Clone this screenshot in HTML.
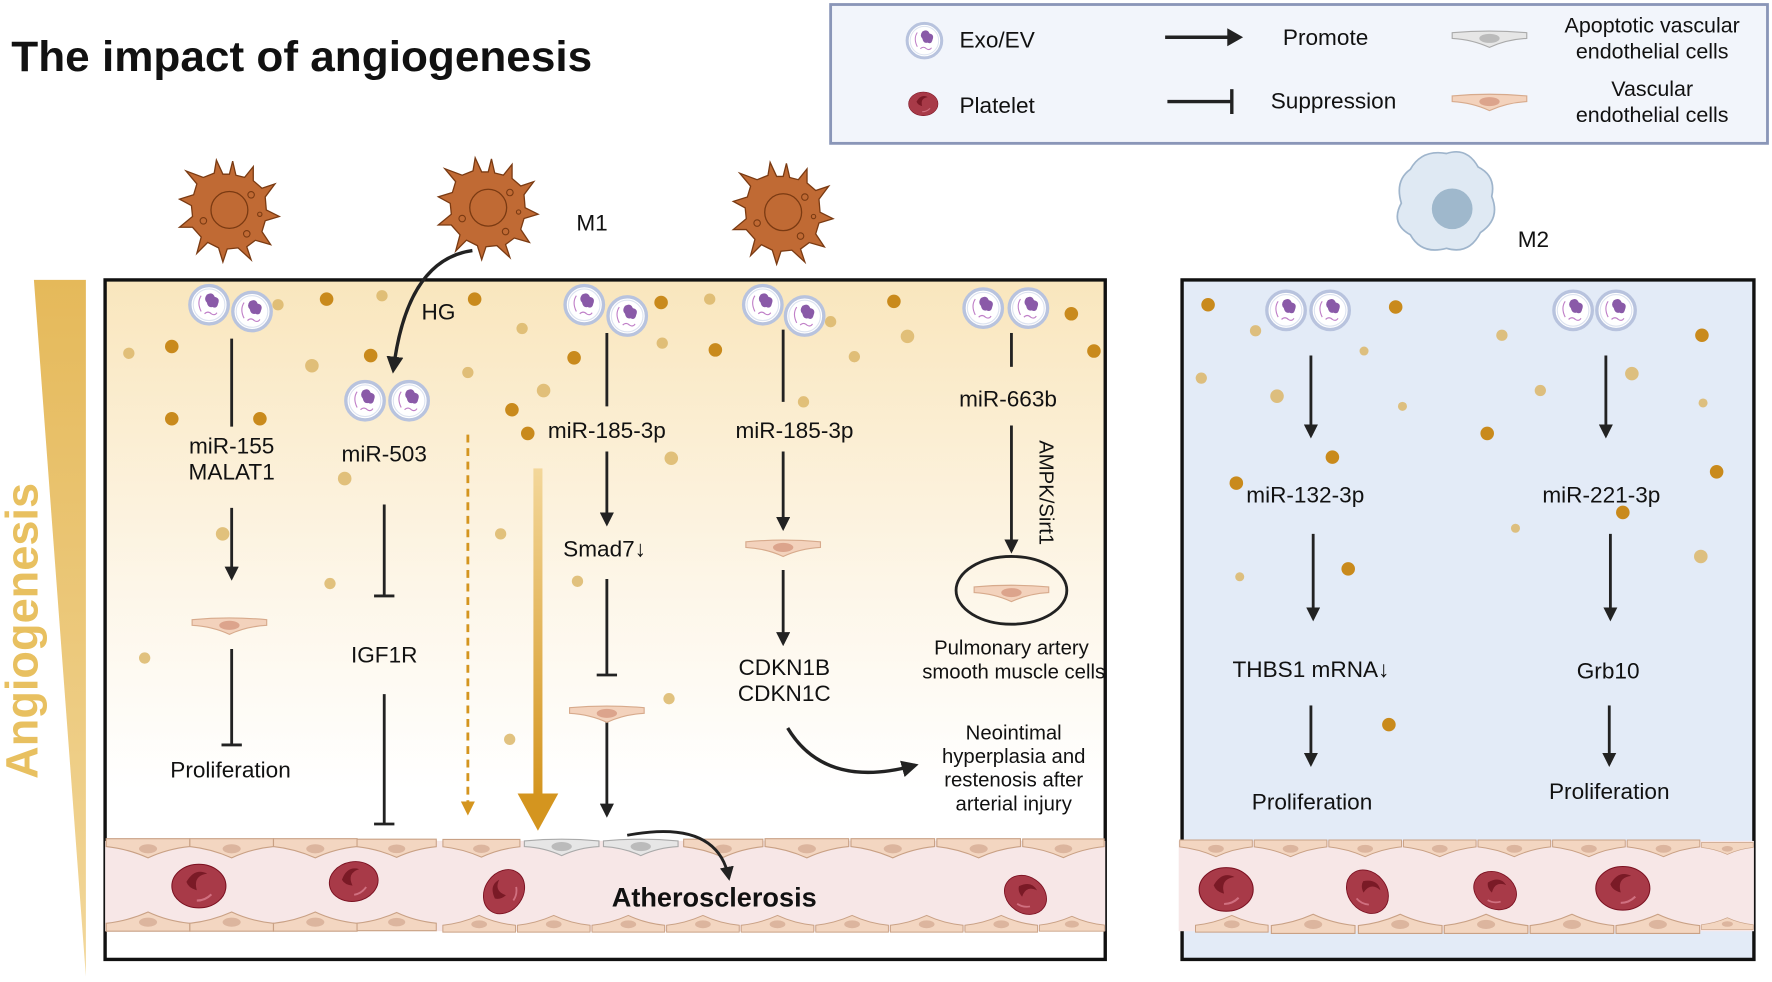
<!DOCTYPE html>
<html><head><meta charset="utf-8"><style>
html,body{margin:0;padding:0;background:#fff;}
svg{display:block;}
text{font-family:"Liberation Sans",Arial,sans-serif;fill:#111;}
</style></head><body>
<svg width="1772" height="982" viewBox="0 0 1568 870" preserveAspectRatio="none" xmlns="http://www.w3.org/2000/svg">
<defs>
<linearGradient id="bg1" x1="0" y1="0" x2="0" y2="1">
<stop offset="0" stop-color="#f9e6bd"/><stop offset="0.45" stop-color="#fdf6e8"/><stop offset="0.75" stop-color="#ffffff"/></linearGradient>
<linearGradient id="tri" x1="0" y1="0" x2="0" y2="1">
<stop offset="0" stop-color="#e5b95a"/><stop offset="1" stop-color="#f2d79a"/></linearGradient>
<linearGradient id="thick" x1="0" y1="0" x2="0" y2="1">
<stop offset="0" stop-color="#f3d79a"/><stop offset="1" stop-color="#d4951f"/></linearGradient>
<marker id="ah" viewBox="0 0 10 10" refX="8" refY="5" markerWidth="5" markerHeight="5" orient="auto"><path d="M0,0L10,5L0,10z" fill="#222"/></marker>
<marker id="ao" viewBox="0 0 10 10" refX="8" refY="5" markerWidth="5" markerHeight="5" orient="auto"><path d="M0,0L10,5L0,10z" fill="#d4951f"/></marker>
<symbol id="exo" viewBox="-20 -20 40 40"><circle r="17" fill="#fff" stroke="#b8c3de" stroke-width="3"/><circle r="14" fill="none" stroke="#dde3f0" stroke-width="1"/><path d="M-2,-9 q5,-3 7,2 q5,1 3,6 q-1,5 -5,3 q-4,1 -5,-4 q-3,-3 0,-7z" fill="#8a5aa8"/><path d="M-7,-8 q-4,6 0,14" stroke="#c080c8" fill="none"/><path d="M-4,8 q3,-3 6,0 q3,2 5,-1" stroke="#c080c8" fill="none"/></symbol>
<symbol id="mac" viewBox="-50 -50 100 100"><g stroke="#7a3a12" stroke-width="1.2" fill="#c06a34">
<path d="M0,-33 L3,-45 L6,-32 L14,-30 L22,-40 L22,-27 L30,-20 L42,-24 L33,-12 L34,0 L46,6 L33,10 L30,20 L38,32 L24,28 L16,34 L20,46 L8,35 L-2,36 L-6,48 L-10,35 L-20,30 L-30,40 L-26,25 L-34,16 L-46,16 L-34,6 L-35,-4 L-46,-10 L-33,-14 L-30,-24 L-40,-36 L-24,-30 L-14,-34 L-12,-46 L-6,-33 Z"/>
<circle r="17" fill="#c06a34"/></g>
<g fill="none" stroke="#7a3a12"><circle cx="20" cy="-14" r="3"/><circle cx="-24" cy="10" r="3"/><circle cx="16" cy="22" r="3"/><circle cx="28" cy="4" r="2"/></g></symbol>
<symbol id="ec" viewBox="0 0 70 20"><path d="M2,5 Q35,2 68,5 L68,10 Q50,11 35,18 Q20,11 2,10Z" fill="#f3d2bc" stroke="#d7aa8c"/><ellipse cx="35" cy="10" rx="9" ry="4" fill="#dca48c"/></symbol>
<symbol id="ecg" viewBox="0 0 70 20"><path d="M2,5 Q35,2 68,5 L68,10 Q50,11 35,18 Q20,11 2,10Z" fill="#e6e6e6" stroke="#aaa"/><ellipse cx="35" cy="10" rx="9" ry="4" fill="#bbb"/></symbol>
<symbol id="rbc" viewBox="-30 -25 60 50"><ellipse rx="26" ry="21" fill="#a83a48" stroke="#7a1020"/><path d="M-12,-4 q8,-14 20,-8 q-14,2 -10,16 q-8,-2 -10,-8z" fill="#7a1a26"/><path d="M12,8 q-6,6 -14,6" stroke="#d07080" fill="none" stroke-width="2"/></symbol>
<symbol id="vcell" viewBox="0 0 76 20"><path d="M1,1 L75,1 L75,8 Q55,10 38,18 Q20,10 1,8Z" fill="#f3d6c1" stroke="#c9a185"/><ellipse cx="38" cy="10" rx="8" ry="4" fill="#dcb59e"/></symbol>
<symbol id="vcellb" viewBox="0 0 76 20"><path d="M1,19 L75,19 L75,12 Q55,10 38,2 Q20,10 1,12Z" fill="#f3d6c1" stroke="#c9a185"/><ellipse cx="38" cy="11" rx="8" ry="4" fill="#dcb59e"/></symbol>
</defs>

<text x="10" y="63" font-size="38" font-weight="bold" fill="#222" textLength="514" lengthAdjust="spacingAndGlyphs">The impact of angiogenesis</text>

<!-- legend -->
<rect x="735" y="4" width="829" height="123" fill="#f2f5fb" stroke="#8a96b8" stroke-width="2.5"/>
<use href="#exo" x="800" y="18" width="36" height="36"/>
<text x="849" y="42" font-size="20">Exo/EV</text>
<use href="#rbc" x="802" y="79" width="30" height="26"/>
<text x="849" y="100" font-size="20">Platelet</text>
<line x1="1031" y1="33" x2="1090" y2="33" stroke="#222" stroke-width="3"/><path d="M1086,25 L1100,33 L1086,41z" fill="#222"/>
<text x="1173" y="40" font-size="20" text-anchor="middle">Promote</text>
<line x1="1033" y1="90" x2="1090" y2="90" stroke="#222" stroke-width="3"/><line x1="1090" y1="79" x2="1090" y2="101" stroke="#222" stroke-width="3"/>
<text x="1180" y="96" font-size="20" text-anchor="middle">Suppression</text>
<use href="#ecg" x="1283" y="24" width="70" height="20"/>
<use href="#ec" x="1283" y="80" width="70" height="20"/>
<text x="1462" y="29" font-size="19" text-anchor="middle">Apoptotic vascular</text>
<text x="1462" y="52" font-size="19" text-anchor="middle">endothelial cells</text>
<text x="1462" y="85" font-size="19" text-anchor="middle">Vascular</text>
<text x="1462" y="108" font-size="19" text-anchor="middle">endothelial cells</text>

<!-- triangle -->
<polygon points="30,248 76,248 76,865" fill="url(#tri)"/>
<text transform="translate(33,690) rotate(-90)" font-size="40" font-weight="bold" style="fill:#e8c060">Angiogenesis</text>

<!-- macrophages -->
<use href="#mac" x="155" y="138" width="96" height="96"/>
<use href="#mac" x="384" y="136" width="96" height="96"/>
<use href="#mac" x="645" y="140" width="96" height="96"/>
<text x="510" y="204" font-size="20">M1</text>
<path d="M1248,150 q10,-18 32,-14 q18,-6 28,12 q16,8 12,26 q8,20 -10,32 q-10,20 -30,14 q-22,6 -32,-12 q-18,-10 -8,-28 q-6,-20 8,-30z" fill="#dfe9f3" stroke="#9fb5cc" stroke-width="1.5"/>
<circle cx="1285" cy="185" r="18" fill="#9fb8cc"/>
<text x="1343" y="219" font-size="20">M2</text>

<!-- main boxes -->
<rect x="93" y="248" width="885" height="602" fill="url(#bg1)" stroke="#111" stroke-width="3"/>
<rect x="1046" y="248" width="506" height="602" fill="#e3ebf7" stroke="#111" stroke-width="3"/>

<!-- dots -->
<g fill="#c98a1c">
<circle cx="289" cy="265" r="6"/><circle cx="420" cy="265" r="6"/><circle cx="585" cy="268" r="6"/><circle cx="791" cy="267" r="6"/><circle cx="948" cy="278" r="6"/>
<circle cx="152" cy="307" r="6"/><circle cx="328" cy="315" r="6"/><circle cx="508" cy="317" r="6"/><circle cx="633" cy="310" r="6"/><circle cx="968" cy="311" r="6"/>
<circle cx="152" cy="371" r="6"/><circle cx="230" cy="371" r="6"/><circle cx="453" cy="363" r="6"/><circle cx="467" cy="384" r="6"/><circle cx="1069" cy="270" r="6"/><circle cx="1235" cy="272" r="6"/><circle cx="1506" cy="297" r="6"/><circle cx="1316" cy="384" r="6"/><circle cx="1179" cy="405" r="6"/><circle cx="1094" cy="428" r="6"/><circle cx="1436" cy="454" r="6"/><circle cx="1519" cy="418" r="6"/><circle cx="1193" cy="504" r="6"/><circle cx="1229" cy="642" r="6"/>
</g>
<g fill="#dcb76a" opacity="0.85">
<circle cx="246" cy="270" r="5"/><circle cx="338" cy="262" r="5"/><circle cx="462" cy="291" r="5"/><circle cx="628" cy="265" r="5"/><circle cx="735" cy="285" r="5"/><circle cx="803" cy="298" r="6"/>
<circle cx="114" cy="313" r="5"/><circle cx="276" cy="324" r="6"/><circle cx="414" cy="330" r="5"/><circle cx="481" cy="346" r="6"/><circle cx="586" cy="304" r="5"/><circle cx="756" cy="316" r="5"/><circle cx="711" cy="356" r="5"/><circle cx="594" cy="406" r="6"/>
<circle cx="305" cy="424" r="6"/><circle cx="197" cy="473" r="6"/><circle cx="443" cy="473" r="5"/><circle cx="511" cy="515" r="5"/><circle cx="292" cy="517" r="5"/><circle cx="128" cy="583" r="5"/><circle cx="592" cy="619" r="5"/><circle cx="451" cy="655" r="5"/>
<circle cx="1111" cy="293" r="5"/><circle cx="1063" cy="335" r="5"/><circle cx="1130" cy="351" r="6"/><circle cx="1207" cy="311" r="4"/><circle cx="1241" cy="360" r="4"/><circle cx="1329" cy="297" r="5"/><circle cx="1363" cy="346" r="5"/><circle cx="1444" cy="331" r="6"/><circle cx="1507" cy="357" r="4"/><circle cx="1341" cy="468" r="4"/><circle cx="1505" cy="493" r="6"/><circle cx="1097" cy="511" r="4"/>
</g>

<!-- vessels -->
<rect x="93" y="745" width="885" height="80" fill="#f7e7e7"/>
<rect x="1043" y="745" width="509" height="80" fill="#f7e7e7"/>
<g>
<use href="#vcell" x="93" y="742" width="76" height="20"/><use href="#vcell" x="167" y="742" width="76" height="20"/><use href="#vcell" x="241" y="742" width="76" height="20"/><use href="#vcell" x="315" y="742" width="72" height="20"/>
<use href="#vcell" x="391" y="742" width="70" height="20"/>
<use href="#ecg" x="462" y="740" width="70" height="20"/><use href="#ecg" x="532" y="740" width="70" height="20"/>
<use href="#vcell" x="604" y="742" width="72" height="20"/><use href="#vcell" x="676" y="742" width="76" height="20"/><use href="#vcell" x="752" y="742" width="76" height="20"/><use href="#vcell" x="828" y="742" width="76" height="20"/><use href="#vcell" x="904" y="742" width="74" height="20"/>
<use href="#vcell" x="1043" y="742" width="66" height="20"/><use href="#vcell" x="1109" y="742" width="66" height="20"/><use href="#vcell" x="1175" y="742" width="66" height="20"/><use href="#vcell" x="1241" y="742" width="66" height="20"/><use href="#vcell" x="1307" y="742" width="66" height="20"/><use href="#vcell" x="1373" y="742" width="66" height="20"/><use href="#vcell" x="1439" y="742" width="66" height="20"/><use href="#vcell" x="1505" y="742" width="47" height="20"/>
</g>
<g>
<use href="#vcellb" x="93" y="806" width="76" height="20"/><use href="#vcellb" x="167" y="806" width="76" height="20"/><use href="#vcellb" x="241" y="806" width="76" height="20"/><use href="#vcellb" x="315" y="806" width="72" height="20"/>
<use href="#vcellb" x="391" y="808" width="66" height="20"/><use href="#vcellb" x="457" y="808" width="66" height="20"/><use href="#vcellb" x="523" y="808" width="66" height="20"/><use href="#vcellb" x="589" y="808" width="66" height="20"/><use href="#vcellb" x="655" y="808" width="66" height="20"/><use href="#vcellb" x="721" y="808" width="66" height="20"/><use href="#vcellb" x="787" y="808" width="66" height="20"/><use href="#vcellb" x="853" y="808" width="66" height="20"/><use href="#vcellb" x="919" y="808" width="59" height="20"/>
<use href="#vcellb" x="1057" y="808" width="66" height="20"/><use href="#vcellb" x="1123" y="808" width="78" height="20"/><use href="#vcellb" x="1201" y="808" width="76" height="20"/><use href="#vcellb" x="1277" y="808" width="76" height="20"/><use href="#vcellb" x="1353" y="808" width="76" height="20"/><use href="#vcellb" x="1429" y="808" width="76" height="20"/><use href="#vcellb" x="1505" y="808" width="47" height="20"/>
</g>
<use href="#rbc" x="148" y="762" width="56" height="46"/>
<use href="#rbc" x="288" y="758" width="50" height="46" transform="rotate(-10 313 781)"/>
<use href="#rbc" x="420" y="770" width="52" height="40" transform="rotate(-55 446 790)"/>
<use href="#rbc" x="882" y="774" width="52" height="38" transform="rotate(35 908 792)"/>
<use href="#rbc" x="1057" y="765" width="56" height="46"/>
<use href="#rbc" x="1184" y="770" width="52" height="40" transform="rotate(50 1210 790)"/>
<use href="#rbc" x="1297" y="770" width="52" height="38" transform="rotate(30 1323 789)"/>
<use href="#rbc" x="1408" y="764" width="56" height="46"/>
<text x="632" y="803" font-size="24" font-weight="bold" text-anchor="middle" fill="#222">Atherosclerosis</text>

<!-- exos -->
<g>
<use href="#exo" x="165" y="250" width="40" height="40"/><use href="#exo" x="203" y="256" width="40" height="40"/>
<use href="#exo" x="303" y="335" width="40" height="40"/><use href="#exo" x="342" y="335" width="40" height="40"/>
<use href="#exo" x="497" y="250" width="40" height="40"/><use href="#exo" x="535" y="260" width="40" height="40"/>
<use href="#exo" x="655" y="250" width="40" height="40"/><use href="#exo" x="692" y="260" width="40" height="40"/>
<use href="#exo" x="850" y="253" width="40" height="40"/><use href="#exo" x="890" y="253" width="40" height="40"/>
<use href="#exo" x="1118" y="255" width="40" height="40"/><use href="#exo" x="1157" y="255" width="40" height="40"/>
<use href="#exo" x="1372" y="255" width="40" height="40"/><use href="#exo" x="1410" y="255" width="40" height="40"/>
</g>

<!-- arrows -->
<g stroke="#222" stroke-width="2.5" fill="none">
<line x1="205" y1="300" x2="205" y2="378"/>
<line x1="205" y1="450" x2="205" y2="512" marker-end="url(#ah)"/>
<line x1="205" y1="575" x2="205" y2="660"/><line x1="196" y1="660" x2="214" y2="660"/>
<line x1="340" y1="447" x2="340" y2="528"/><line x1="331" y1="528" x2="349" y2="528"/>
<line x1="340" y1="615" x2="340" y2="730"/><line x1="331" y1="730" x2="349" y2="730"/>
<path d="M418,222 Q360,230 348,328" marker-end="url(#ah)" stroke-width="3"/>
<line x1="537" y1="295" x2="537" y2="360"/>
<line x1="537" y1="400" x2="537" y2="464" marker-end="url(#ah)"/>
<line x1="537" y1="513" x2="537" y2="598"/><line x1="528" y1="598" x2="546" y2="598"/>
<line x1="537" y1="640" x2="537" y2="722" marker-end="url(#ah)"/>
<path d="M555,740 Q635,725 645,778" marker-end="url(#ah)"/>
<line x1="693" y1="292" x2="693" y2="356"/>
<line x1="693" y1="400" x2="693" y2="468" marker-end="url(#ah)"/>
<line x1="693" y1="505" x2="693" y2="570" marker-end="url(#ah)"/>
<path d="M697,645 Q730,700 810,678" marker-end="url(#ah)" stroke-width="3"/>
<line x1="895" y1="295" x2="895" y2="325"/>
<line x1="895" y1="377" x2="895" y2="488" marker-end="url(#ah)"/>
<line x1="1160" y1="315" x2="1160" y2="386" marker-end="url(#ah)"/>
<line x1="1162" y1="473" x2="1162" y2="548" marker-end="url(#ah)"/>
<line x1="1160" y1="625" x2="1160" y2="677" marker-end="url(#ah)"/>
<line x1="1421" y1="315" x2="1421" y2="386" marker-end="url(#ah)"/>
<line x1="1425" y1="473" x2="1425" y2="548" marker-end="url(#ah)"/>
<line x1="1424" y1="625" x2="1424" y2="677" marker-end="url(#ah)"/>
</g>
<line x1="414" y1="385" x2="414" y2="720" stroke="#d4951f" stroke-width="2.5" stroke-dasharray="7,5" marker-end="url(#ao)"/>
<rect x="472" y="415" width="8" height="290" fill="url(#thick)"/>
<path d="M458,703 L494,703 L476,736z" fill="#d4951f"/>
<ellipse cx="895" cy="523" rx="49" ry="30" fill="none" stroke="#222" stroke-width="2.5"/>
<use href="#ec" x="860" y="515" width="70" height="20"/>
<use href="#ec" x="168" y="544" width="70" height="20"/>
<use href="#ec" x="502" y="622" width="70" height="20"/>
<use href="#ec" x="658" y="475" width="70" height="20"/>

<!-- labels -->
<g font-size="20" text-anchor="middle">
<text x="388" y="283">HG</text>
<text x="205" y="402">miR-155</text><text x="205" y="425">MALAT1</text>
<text x="204" y="689">Proliferation</text>
<text x="340" y="409">miR-503</text>
<text x="340" y="587">IGF1R</text>
<text x="537" y="388">miR-185-3p</text>
<text x="535" y="493">Smad7↓</text>
<text x="703" y="388">miR-185-3p</text>
<text x="694" y="598">CDKN1B</text><text x="694" y="621">CDKN1C</text>
<text x="892" y="360">miR-663b</text>
<text x="895" y="580" font-size="18">Pulmonary artery</text><text x="897" y="601" font-size="18">smooth muscle cells</text>
<text x="897" y="655" font-size="18">Neointimal</text><text x="897" y="676" font-size="18">hyperplasia and</text><text x="897" y="697" font-size="18">restenosis after</text><text x="897" y="718" font-size="18">arterial injury</text>
<text x="1155" y="445">miR-132-3p</text>
<text x="1417" y="445">miR-221-3p</text>
<text x="1160" y="600">THBS1 mRNA↓</text>
<text x="1423" y="601">Grb10</text>
<text x="1161" y="717">Proliferation</text>
<text x="1424" y="708">Proliferation</text>
</g>
<text transform="translate(920,390) rotate(90)" font-size="18">AMPK/Sirt1</text>
</svg>
</body></html>
